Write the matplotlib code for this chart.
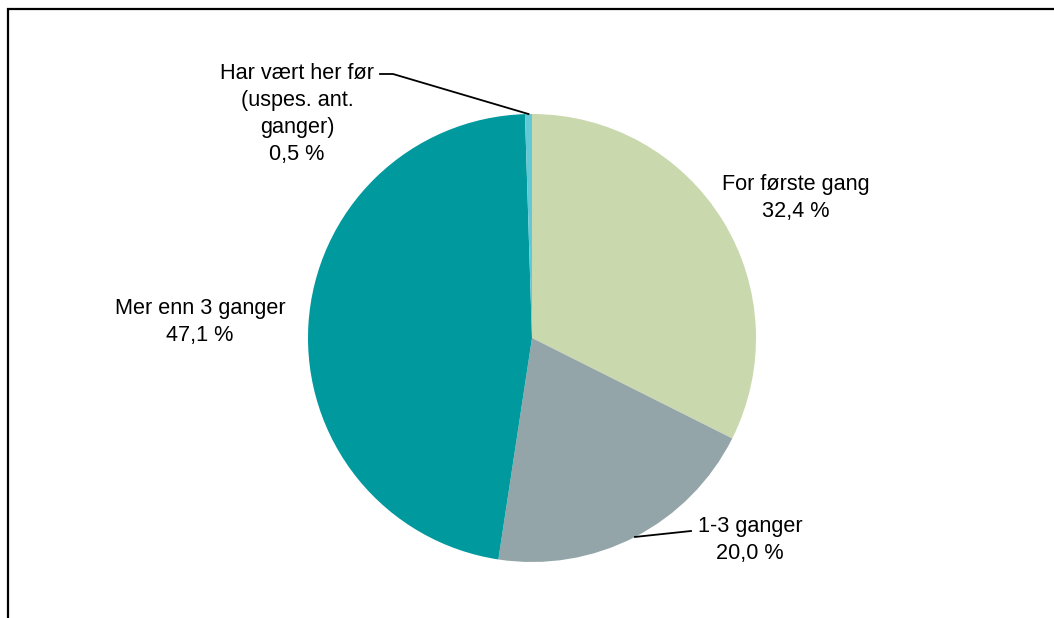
import numpy as np
import matplotlib
matplotlib.use("Agg")
import matplotlib.pyplot as plt
from matplotlib.patches import Rectangle

plt.rcParams['font.family'] = ['Liberation Sans', 'DejaVu Sans']

# data
labels = ['For første gang', '1-3 ganger', 'Mer enn 3 ganger',
          'Har vært her før\n(uspes. ant.\nganger)']
values = [32.4, 20.0, 47.1, 0.5]
colors = ['#c9d8ad', '#94a5a9', '#00999e', '#63c8d6']

W, H = 1054, 618
fig = plt.figure(figsize=(W / 100, H / 100), dpi=100)
ax = fig.add_axes([0, 0, 1, 1])

cx, cy, r = 532, H - 338, 224
wedges, _ = ax.pie(values, colors=colors, startangle=90, counterclock=False,
                   center=(cx, cy), radius=r, frame=True,
                   wedgeprops=dict(linewidth=0))
ax.set_xlim(0, W)
ax.set_ylim(0, H)
ax.set_aspect('equal')
ax.axis('off')

# outer frame (partly cropped in the original)
fig.patches.append(Rectangle((8 / W, -0.1), 1.2, (H - 9) / H + 0.1,
                             transform=fig.transFigure, fill=False,
                             edgecolor='black', linewidth=1.6))

def pct(v):
    return f"{v:.1f}".replace('.', ',') + ' %'

fs = 15.6
# label positions (image pixels)
pos = [(796, 198), (750, 540), (200, 322), (297, 114)]
for lab, v, (x, y) in zip(labels, values, pos):
    ax.text(x, H - y, lab + '\n' + pct(v), ha='center', va='center',
            fontsize=fs, linespacing=1.36)

def edge_point(w):
    ang = np.deg2rad((w.theta1 + w.theta2) / 2)
    return cx + r * np.cos(ang), cy + r * np.sin(ang)

# leader lines
x0, y0 = edge_point(wedges[1])
ax.plot([x0, 691], [y0, H - 531], color='black', lw=1.3)
x0, y0 = edge_point(wedges[3])
ax.plot([380, 393, x0], [H - 74, H - 74, y0], color='black', lw=1.3)

fig.savefig('out.png', dpi=100)
